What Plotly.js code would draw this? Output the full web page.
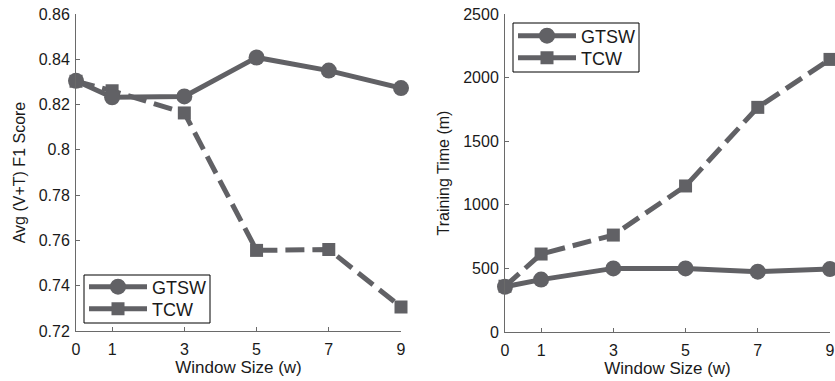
<!DOCTYPE html>
<html>
<head>
<meta charset="utf-8">
<script src="https://cdn.plot.ly/plotly-3.0.1.min.js"></script>
<style>html,body{margin:0;padding:0;background:#fff;}#chart{width:835px;height:381px;}</style>
</head>
<body>
<div id="chart"></div>
<script>
const windowSizes = [0, 1, 3, 5, 7, 9];
const xTickLabels = ['0', '1', '3', '5', '7', '9'];
const f1GTSW = [0.8305, 0.8232, 0.8236, 0.8408, 0.8350, 0.8273];
const f1TCW  = [0.8303, 0.8261, 0.8163, 0.7556, 0.7560, 0.7306];
const timeGTSW = [356, 412, 500, 500, 474, 495];
const timeTCW  = [360, 613, 762, 1148, 1766, 2143];
const f1Ticks = [0.72, 0.74, 0.76, 0.78, 0.8, 0.82, 0.84, 0.86];
const f1TickLabels = ['0.72', '0.74', '0.76', '0.78', '0.8', '0.82', '0.84', '0.86'];
const timeTicks = [0, 500, 1000, 1500, 2000, 2500];
const timeTickLabels = ['0', '500', '1000', '1500', '2000', '2500'];
const seriesNames = ['GTSW', 'TCW'];

const col = '#616165';
const lw = 5;
const dashPat = '19px,8px';

function mk(x, y, name, sym, dashed, xa, ya, showleg, leg) {
  return {
    x: x, y: y, name: name, type: 'scatter', mode: 'lines+markers',
    xaxis: xa, yaxis: ya, showlegend: showleg, legend: leg, cliponaxis: false,
    line: {color: col, width: lw, dash: dashed ? dashPat : 'solid'},
    marker: {symbol: sym, size: sym === 'circle' ? 16 : 13, color: col},
    hoverinfo: 'skip'
  };
}

const data = [
  mk(windowSizes, f1TCW, seriesNames[1], 'square', true, 'x', 'y', false, 'legend'),
  mk(windowSizes, f1GTSW, seriesNames[0], 'circle', false, 'x', 'y', false, 'legend'),
  mk(windowSizes, timeTCW, seriesNames[1], 'square', true, 'x2', 'y2', false, 'legend3'),
  mk(windowSizes, timeGTSW, seriesNames[0], 'circle', false, 'x2', 'y2', false, 'legend3'),
  mk([null], [null], seriesNames[0], 'circle', false, 'x', 'y', true, 'legend'),
  mk([null], [null], seriesNames[1], 'square', false, 'x', 'y', true, 'legend2'),
  mk([null], [null], seriesNames[0], 'circle', false, 'x2', 'y2', true, 'legend3'),
  mk([null], [null], seriesNames[1], 'square', false, 'x2', 'y2', true, 'legend4')
];

const fontFam = 'Liberation Sans, Arial, Helvetica, sans-serif';
const axCommon = {
  showline: true, linecolor: '#6a6a6a', linewidth: 1, showgrid: false, zeroline: false,
  ticks: 'inside', ticklen: 4, tickcolor: '#6a6a6a', tickwidth: 1,
  tickfont: {family: fontFam, size: 16, color: '#1a1a1a'}, fixedrange: true
};
function xax(domain, anchor) {
  return Object.assign({}, axCommon, {
    domain: domain, anchor: anchor, range: [0, 9], tickmode: 'array',
    tickvals: windowSizes, ticktext: xTickLabels, ticklabelstandoff: 4,
    title: {text: 'Window Size (w)', font: {family: fontFam, size: 17, color: '#1a1a1a'}, standoff: 3}
  });
}
function yax(domain, anchor, range, tv, tt, title) {
  return Object.assign({}, axCommon, {
    domain: domain, anchor: anchor, range: range, tickmode: 'array',
    tickvals: tv, ticktext: tt, ticklabelstandoff: 2,
    title: {text: title, font: {family: fontFam, size: 16, color: '#1a1a1a'}, standoff: 9}
  });
}
function leg(xpx, ypx) {
  return {
    borderwidth: 0, bgcolor: 'rgba(0,0,0,0)',
    font: {family: fontFam, size: 18, color: '#1a1a1a'},
    xanchor: 'left', yanchor: 'middle', itemwidth: 58,
    x: xpx/835, y: (381-ypx)/381
  };
}

function box(x0, x1, y0, y1) {
  return {type: 'rect', xref: 'paper', yref: 'paper',
    x0: x0/835, x1: x1/835, y0: (381-y1)/381, y1: (381-y0)/381,
    line: {color: '#000', width: 1}, fillcolor: '#fff', layer: 'above'};
}

const layout = {
  width: 835, height: 381,
  margin: {l: 0, r: 0, t: 0, b: 0},
  paper_bgcolor: '#fff', plot_bgcolor: '#fff',
  showlegend: true,
  xaxis: xax([76/835, 401/835], 'y'),
  yaxis: yax([50/381, 367/381], 'x', [0.72, 0.86], f1Ticks, f1TickLabels, 'Avg (V+T) F1 Score'),
  xaxis2: xax([505/835, 830/835], 'y2'),
  yaxis2: yax([49/381, 367/381], 'x2', [0, 2500], timeTicks, timeTickLabels, 'Training Time (m)'),
  legend: leg(84, 287),
  legend2: leg(84, 309),
  legend3: leg(513, 36),
  legend4: leg(513, 58),
  shapes: [box(84, 210, 275, 323), box(513, 639, 23, 72)]
};

Plotly.newPlot('chart', data, layout, {displayModeBar: false, staticPlot: true});
</script>
</body>
</html>
